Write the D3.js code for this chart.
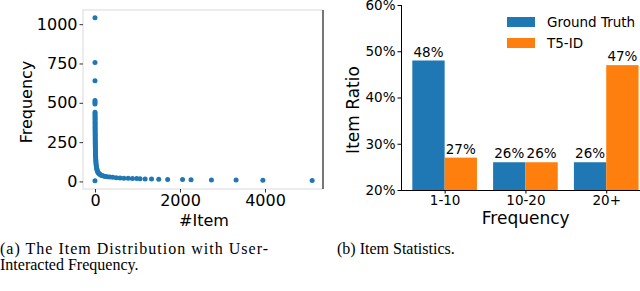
<!DOCTYPE html>
<html>
<head>
<meta charset="utf-8">
<script src="https://cdn.jsdelivr.net/npm/d3@7"></script>
<style>
  body { margin: 0; background: #fff; }
  svg { display: block; }
  .tick text { font-family: "DejaVu Sans", sans-serif; fill: #000; }
</style>
</head>
<body>
<div id="chart"></div>
<script>
// (a) item distribution: number of items vs. interaction frequency
const itemCounts = [0, 0, 0, 0, 0, 0, 0,
  1, 1, 1, 2, 2, 2, 2, 3, 3, 3, 3, 4, 4, 4, 5, 5, 5, 6, 6, 7, 7, 8, 8, 9,
  10, 11, 12, 13, 14, 16, 18, 20, 23, 26, 30, 34, 40, 46, 54, 64, 76, 92,
  110, 135, 165, 200, 240, 290, 350, 420, 500, 590, 680, 780, 880, 980,
  1060, 1180, 1330, 1500, 1710, 2060, 2260, 2740, 3320, 3950, 5110];
const frequencies = [1040, 757, 640, 515, 503, 492, 4,
  440, 430, 420, 410, 400, 390, 380, 370, 360, 350, 340, 330, 320, 310, 300, 290, 280, 270, 260, 250, 240, 230, 220, 210,
  200, 190, 180, 170, 160, 150, 140, 130, 120, 110, 100, 92, 84, 76, 68, 61, 55, 50,
  45, 41, 38, 35, 32, 30, 28, 26, 24, 22, 21, 20, 19, 18,
  17, 16, 15, 14, 13, 12, 11, 10, 9, 8, 6];
const scatterXTicks = [0, 2000, 4000];
const scatterYTicks = [0, 250, 500, 750, 1000];

// (b) item statistics
const freqBins = ["1-10", "10-20", "20+"];
const seriesNames = ["Ground Truth", "T5-ID"];
const groundTruth = [48, 26, 26];
const t5id = [27, 26, 47];
const ratioTicks = [20, 30, 40, 50, 60];

const W = 640, H = 291;
const blue = "#1f77b4", orange = "#ff7f0e";

const svg = d3.select("#chart").append("svg")
  .attr("width", W)
  .attr("height", H);

// ---------- left panel: scatter ----------
const x1 = d3.scaleLinear().domain([-282, 5365]).range([83, 323]);
const y1 = d3.scaleLinear().domain([-48, 1090]).range([189, 10]);

const left = svg.append("g");

left.append("rect")
  .attr("x", 83).attr("y", 10)
  .attr("width", 240).attr("height", 179)
  .attr("fill", "none")
  .attr("stroke", "#d9d9d9")
  .attr("stroke-width", 1);
left.append("line")
  .attr("x1", 323).attr("x2", 323).attr("y1", 10).attr("y2", 189)
  .attr("stroke", "#000").attr("stroke-width", 1);

const xAxis1 = left.append("g")
  .attr("transform", "translate(0,189)")
  .call(d3.axisBottom(x1).tickValues(scatterXTicks).tickFormat(d3.format("d")).tickSize(3.5).tickPadding(2));
const yAxis1 = left.append("g")
  .attr("transform", "translate(83,0)")
  .call(d3.axisLeft(y1).tickValues(scatterYTicks).tickFormat(d3.format("d")).tickSize(3.5).tickPadding(2));
[xAxis1, yAxis1].forEach(a => {
  a.select(".domain").remove();
  a.selectAll(".tick line").attr("stroke", "#333");
  a.selectAll(".tick text").style("font-size", "16px");
});

left.append("g")
  .selectAll("circle")
  .data(itemCounts)
  .join("circle")
  .attr("cx", d => x1(d))
  .attr("cy", (d, i) => y1(frequencies[i]))
  .attr("r", 2.5)
  .attr("fill", blue);

left.append("text")
  .attr("x", 204).attr("y", 226)
  .attr("text-anchor", "middle")
  .style("font-family", "DejaVu Sans, sans-serif")
  .style("font-size", "16px")
  .text("#Item");

left.append("text")
  .attr("transform", "translate(32,102) rotate(-90)")
  .attr("text-anchor", "middle")
  .style("font-family", "DejaVu Sans, sans-serif")
  .style("font-size", "16px")
  .text("Frequency");

// ---------- right panel: grouped bars ----------
const x2 = d3.scaleLinear().domain([-0.54, 2.54]).range([401, 401 + 3.08 * 80.8]);
const y2 = d3.scaleLinear().domain([20, 60]).range([190, 5]);
const barW = 0.4;

const right = svg.append("g");

const barData = [];
freqBins.forEach((b, i) => {
  barData.push({ i, off: -barW, v: groundTruth[i], c: blue });
  barData.push({ i, off: 0, v: t5id[i], c: orange });
});

right.selectAll("rect.bar")
  .data(barData)
  .join("rect")
  .attr("class", "bar")
  .attr("x", d => x2(d.i + d.off))
  .attr("y", d => y2(d.v))
  .attr("width", d => x2(d.i + d.off + barW) - x2(d.i + d.off))
  .attr("height", d => y2(20) - y2(d.v))
  .attr("fill", d => d.c);

right.selectAll("text.val")
  .data(barData)
  .join("text")
  .attr("class", "val")
  .attr("x", d => x2(d.i + d.off + barW / 2))
  .attr("y", d => y2(d.v) - 4)
  .attr("text-anchor", "middle")
  .style("font-family", "DejaVu Sans, sans-serif")
  .style("font-size", "13.5px")
  .text(d => d.v + "%");

const xAxis2 = right.append("g")
  .attr("transform", "translate(0,190)")
  .call(d3.axisBottom(x2).tickValues([0, 1, 2]).tickFormat(i => freqBins[i]).tickSize(3.5).tickPadding(2));
xAxis2.select(".domain").attr("d", `M401,0.5H${W}`).attr("stroke", "#000");

const yAxis2 = right.append("g")
  .attr("transform", "translate(401,0)")
  .call(d3.axisLeft(y2).tickValues(ratioTicks).tickFormat(d => d + "%").tickSize(3.5).tickPadding(2));
yAxis2.select(".domain").attr("d", `M0.5,${y2(60)}V${y2(20)}`).attr("stroke", "#000");

[xAxis2, yAxis2].forEach(a => {
  a.selectAll(".tick text").style("font-size", "13.5px");
});

right.append("text")
  .attr("x", 525.7).attr("y", 224)
  .attr("text-anchor", "middle")
  .style("font-family", "DejaVu Sans, sans-serif")
  .style("font-size", "17px")
  .text("Frequency");

right.append("text")
  .attr("transform", "translate(359,110) rotate(-90)")
  .attr("text-anchor", "middle")
  .style("font-family", "DejaVu Sans, sans-serif")
  .style("font-size", "17px")
  .text("Item Ratio");

const legend = right.append("g").attr("transform", "translate(507,17)");
seriesNames.forEach((name, i) => {
  legend.append("rect")
    .attr("x", 0).attr("y", i * 21)
    .attr("width", 28).attr("height", 10)
    .attr("fill", i === 0 ? blue : orange);
  legend.append("text")
    .attr("x", 40).attr("y", i * 21 + 10)
    .style("font-family", "DejaVu Sans, sans-serif")
    .style("font-size", "13.5px")
    .text(name);
});

// ---------- captions ----------
const cap = svg.append("g")
  .style("font-family", "Liberation Serif, DejaVu Serif, serif")
  .style("font-size", "16px")
  .attr("fill", "#000");

cap.append("text")
  .attr("x", 0).attr("y", 254)
  .attr("textLength", 268)
  .attr("lengthAdjust", "spacing")
  .text("(a)  The  Item  Distribution  with  User-");
cap.append("text")
  .attr("x", 0).attr("y", 270)
  .text("Interacted Frequency.");
cap.append("text")
  .attr("x", 337).attr("y", 254)
  .text("(b) Item Statistics.");
</script>
</body>
</html>
